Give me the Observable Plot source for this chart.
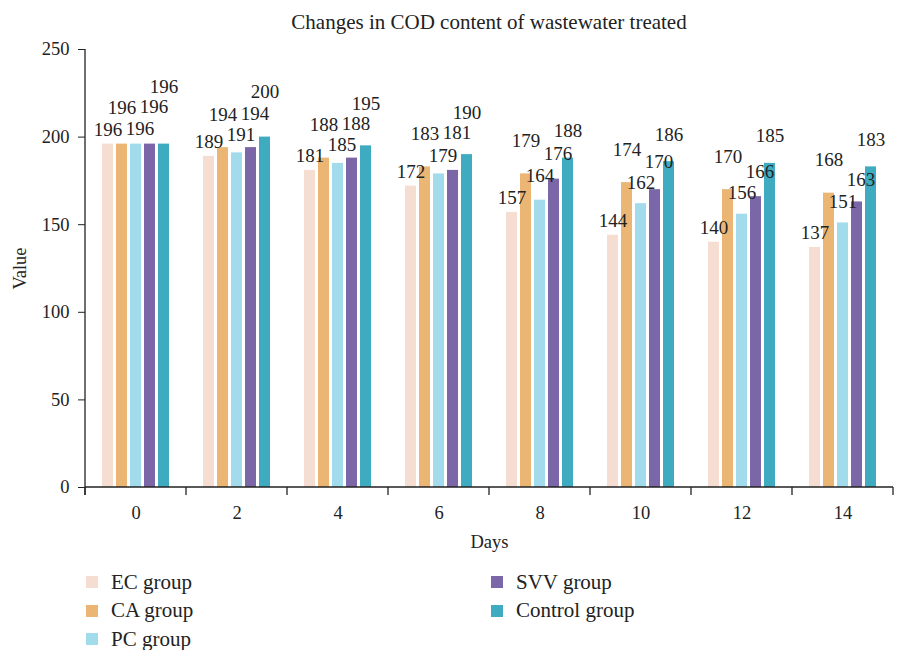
<!DOCTYPE html>
<html>
<head>
<meta charset="utf-8">
<script src="https://cdn.jsdelivr.net/npm/d3@7"></script>
<script src="https://cdn.jsdelivr.net/npm/@observablehq/plot@0.6"></script>
<style>
  html, body { margin: 0; padding: 0; background: #fff; }
  body { width: 899px; height: 650px; position: relative; overflow: hidden; font-family: "Liberation Serif", serif; color: #222; }
  #title { position: absolute; left: 85px; width: 808px; top: 8px; text-align: center; font-size: 21px; line-height: 28px; }
  #legend { display: grid; grid-template-rows: repeat(3, 28.5px); grid-auto-flow: column; grid-template-columns: 405px 300px; margin-left: 86px; margin-top: 8px; font-size: 21px; }
  .item { display: flex; align-items: center; }
  .sw { width: 12px; height: 12px; margin-right: 13px; }
</style>
</head>
<body>
<div id="chart"></div>
<div id="title">Changes in COD content of wastewater treated</div>
<div id="legend"></div>
<script>
const days = [0, 2, 4, 6, 8, 10, 12, 14];
const groups = ["EC group", "CA group", "PC group", "SVV group", "Control group"];
const ecValues      = [196, 189, 181, 172, 157, 144, 140, 137];
const caValues      = [196, 194, 188, 183, 179, 174, 170, 168];
const pcValues      = [196, 191, 185, 179, 164, 162, 156, 151];
const svvValues     = [196, 194, 188, 181, 176, 170, 166, 163];
const controlValues = [196, 200, 195, 190, 188, 186, 185, 183];
const yTicks = [0, 50, 100, 150, 200, 250];
const colors = ["#F6DDD2", "#EBB574", "#A2DBEC", "#7B66A8", "#3EABC1"];
const labelDy = {"EC group": -8, "CA group": -27, "PC group": -15, "SVV group": -16, "Control group": -21};

const series = [ecValues, caValues, pcValues, svvValues, controlValues];
const data = [];
days.forEach((d, i) => groups.forEach((g, j) => data.push({day: d, group: g, value: series[j][i]})));

const labelMarks = groups.map(g => Plot.text(data.filter(r => r.group === g), {
  fx: "day", x: "group", y: "value", text: r => String(r.value),
  dy: labelDy[g], fontSize: 19, fill: "#222"
}));

const plot = Plot.plot({
  width: 899,
  height: 560,
  marginLeft: 85,
  marginRight: 6,
  marginTop: 49,
  marginBottom: 73,
  style: {fontFamily: "Liberation Serif", fontSize: "18.5px", color: "#222", background: "transparent"},
  fx: {domain: days, padding: 0, axis: "bottom", tickSize: 0, tickPadding: 18, label: "Days", labelAnchor: "center", labelOffset: 60},
  x: {domain: groups, paddingInner: 0.21, paddingOuter: 1.21, axis: null},
  y: {domain: [0, 250], ticks: yTicks, tickSize: 7, tickPadding: 9, label: "Value", labelAnchor: "center", labelOffset: 73, labelArrow: "none"},
  color: {domain: groups, range: colors},
  marks: [
    Plot.barY(data, {fx: "day", x: "group", y: "value", fill: "group"}),
    ...labelMarks
  ]
});
document.getElementById("chart").appendChild(plot);

const svgNode = plot.tagName.toLowerCase() === "svg" ? plot : plot.querySelector("svg");
const svg = d3.select(svgNode);

// axis lines and group-boundary ticks, placed with Plot's scales
const fx = plot.scale("fx");
const ys = plot.scale("y");
const y0 = ys.apply(0);
const left = fx.apply(days[0]);
const bw = fx.bandwidth != null ? fx.bandwidth : (fx.apply(days[1]) - fx.apply(days[0]));
const right = fx.apply(days[days.length - 1]) + bw;
const g = svg.append("g").attr("stroke", "#222").attr("stroke-width", 1.3);
g.append("line").attr("x1", left).attr("x2", right).attr("y1", y0).attr("y2", y0);
g.append("line").attr("x1", left).attr("x2", left).attr("y1", ys.apply(250)).attr("y2", y0 + 8);
days.map(d => fx.apply(d)).concat([right])
  .forEach(b => g.append("line").attr("x1", b).attr("x2", b).attr("y1", y0).attr("y2", y0 + 8));

// simple label repel: nudge value labels until they no longer overlap each other
const labels = Array.from(svgNode.querySelectorAll('g[aria-label="text"] text'));
const placed = [];
const overlaps = (a, b) => a.l < b.r && a.r > b.l && a.t < b.b && a.b > b.t;
const cands = [];
for (let dx = -12; dx <= 12; dx += 4)
  for (let dy = -66; dy <= 48; dy += 3)
    cands.push({dx, dy, cost: Math.abs(dy) + 2 * Math.abs(dx) + (dy > 0 ? 2 : 0)});
cands.sort((a, b) => a.cost - b.cost);
labels.forEach(t => {
  const r = t.getBoundingClientRect();
  const base = {l: r.left - 1.5, r: r.right + 1.5, t: r.top + 0.5, b: r.bottom - 0.5};
  const box = c => ({l: base.l + c.dx, r: base.r + c.dx, t: base.t + c.dy, b: base.b + c.dy});
  const c = cands.find(c => !placed.some(p => overlaps(box(c), p))) || {dx: 0, dy: 0};
  t.setAttribute("x", c.dx);
  t.setAttribute("y", c.dy);
  placed.push(box(c));
});

const legend = document.getElementById("legend");
groups.forEach((name, i) => {
  const it = document.createElement("div");
  it.className = "item";
  it.innerHTML = `<span class="sw" style="background:${colors[i]}"></span><span>${name}</span>`;
  legend.appendChild(it);
});
</script>
</body>
</html>
